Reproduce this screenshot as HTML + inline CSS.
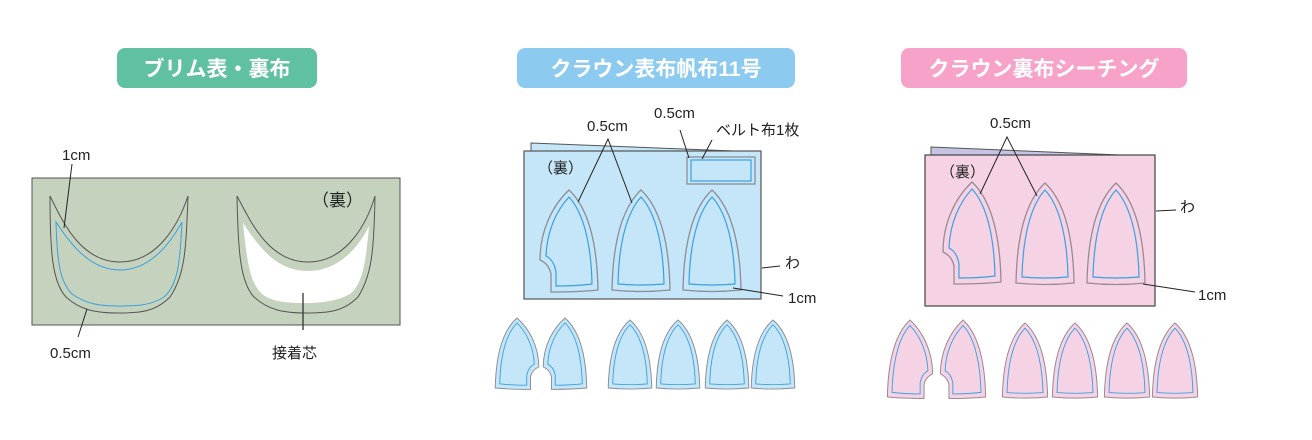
<!DOCTYPE html>
<html><head><meta charset="utf-8"><style>
html,body{margin:0;padding:0;background:#fff}
svg{display:block}
text{font-family:"Liberation Sans","Noto Sans CJK JP",sans-serif}
</style></head><body>
<svg width="1312" height="440" viewBox="0 0 1312 440" xmlns="http://www.w3.org/2000/svg">
<defs>
<path id="po" d="M0,0 C16,15 28,45 29,100 Q0,103 -29,100 C-28,45 -16,15 0,0Z"/>
<path id="pi" d="M0,7 C12,20 22,47 23,94 Q0,96 -23,94 C-22,47 -12,20 0,7Z"/>
<path id="no" d="M0,0 C16,15 28,45 29,100 Q10,102 -18,102 L-18,84 Q-20,74 -29,70 C-29,40 -16,15 0,0Z"/>
<path id="ni" d="M0,7 C12,20 22,47 23,94 Q8,96 -13,96 L-13,82 Q-15,70 -23,66 C-22,40 -12,20 0,7Z"/>
<g id="bp"><use href="#po" fill="#c5e5f8" stroke="#8a8f95" stroke-width="1.3"/><use href="#pi" fill="none" stroke="#3aa0e0" stroke-width="1.2"/></g>
<g id="bn"><use href="#no" fill="#c5e5f8" stroke="#8a8f95" stroke-width="1.3"/><use href="#ni" fill="none" stroke="#3aa0e0" stroke-width="1.2"/></g>
<g id="kp"><use href="#po" fill="#f5d3e5" stroke="#9a8a92" stroke-width="1.3"/><use href="#pi" fill="none" stroke="#3aa0e0" stroke-width="1.2"/></g>
<g id="kn"><use href="#no" fill="#f5d3e5" stroke="#9a8a92" stroke-width="1.3"/><use href="#ni" fill="none" stroke="#3aa0e0" stroke-width="1.2"/></g>
</defs>

<!-- titles -->
<rect x="117" y="48" width="200" height="40" rx="8" fill="#5fc0a2"/>
<text x="217" y="76" font-size="21" font-weight="bold" fill="#fff" text-anchor="middle">ブリム表・裏布</text>
<rect x="517" y="48" width="278" height="40" rx="8" fill="#8ccbef"/>
<text x="656" y="76" font-size="21" font-weight="bold" fill="#fff" text-anchor="middle">クラウン表布帆布11号</text>
<rect x="901" y="48" width="286" height="40" rx="8" fill="#f7a3c9"/>
<text x="1044" y="76" font-size="21" font-weight="bold" fill="#fff" text-anchor="middle">クラウン裏布シーチング</text>

<!-- green panel -->
<rect x="32" y="178" width="368" height="147" fill="#c5d3be" stroke="#555" stroke-width="1"/>
<path d="M50,196 C62,220 80,262 120,262 C160,262 180,220 188,196 C186,250 185,275 170,297 C155,312 140,313 118,313 C96,313 80,310 66,297 C52,282 50,250 50,196Z" fill="none" stroke="#555" stroke-width="1"/>
<path d="M56,222 C68,240 88,270 120,270 C152,270 172,240 182,222 C180,262 178,285 164,297 C150,306 135,306 118,306 C100,306 86,304 72,294 C60,282 57,262 56,222Z" fill="none" stroke="#3aa0e0" stroke-width="1"/>
<path d="M237,196 C250,220 268,262 308,262 C348,262 368,220 375,196 C374,250 372,275 358,297 C343,312 328,313 306,313 C284,313 268,310 254,297 C240,282 238,250 237,196Z" fill="none" stroke="#555" stroke-width="1"/>
<path d="M243,223 C258,245 275,271 308,271 C340,271 360,245 369,226 C366,262 362,288 348,295 C334,302 318,303 304,303 C288,303 272,302 262,294 C250,283 247,262 243,223Z" fill="#fff"/>
<line x1="72" y1="164" x2="64" y2="228" stroke="#222" stroke-width="1"/>
<line x1="87" y1="309" x2="78" y2="337" stroke="#222" stroke-width="1"/>
<line x1="303" y1="293" x2="303" y2="330" stroke="#333" stroke-width="1.3"/>
<text x="62" y="160" font-size="15" fill="#222">1cm</text>
<text x="50" y="358" font-size="15" fill="#222">0.5cm</text>
<text x="272" y="358" font-size="15" fill="#222">接着芯</text>
<text x="312" y="206" font-size="17" fill="#222">（裏）</text>

<!-- blue panel -->
<path d="M531,143 L760,152 L531,152Z" fill="#c5e5f8" stroke="#555" stroke-width="1"/>
<rect x="524" y="151" width="237" height="148" fill="#c5e5f8" stroke="#555" stroke-width="1.2"/>
<rect x="687" y="157" width="68" height="27" fill="#c5e5f8" stroke="#8a8f95" stroke-width="1.3"/>
<rect x="691" y="160" width="60" height="21" fill="none" stroke="#3aa0e0" stroke-width="1.2"/>
<use href="#bn" transform="translate(569,190)"/>
<use href="#bp" transform="translate(641,190)"/>
<use href="#bp" transform="translate(712,190)"/>
<text x="538" y="173" font-size="15" fill="#222">（裏）</text>
<text x="587" y="131" font-size="15" fill="#222">0.5cm</text>
<text x="654" y="118" font-size="15" fill="#222">0.5cm</text>
<text x="716" y="135" font-size="15" fill="#222">ベルト布1枚</text>
<text x="785" y="268" font-size="15" fill="#222">わ</text>
<text x="788" y="303" font-size="15" fill="#222">1cm</text>
<polyline points="578,202 608,139 632,203" fill="none" stroke="#222" stroke-width="1"/>
<line x1="680" y1="130" x2="689" y2="158" stroke="#222" stroke-width="1"/>
<line x1="702" y1="159" x2="712" y2="140" stroke="#222" stroke-width="1"/>
<line x1="762" y1="268" x2="780" y2="266" stroke="#222" stroke-width="1"/>
<line x1="733" y1="288" x2="783" y2="296" stroke="#222" stroke-width="1"/>
<g transform="translate(517,318) scale(-0.75,0.7)"><use href="#bn"/></g>
<g transform="translate(565,318) scale(0.75,0.7)"><use href="#bn"/></g>
<g transform="translate(630,320) scale(0.75,0.68)"><use href="#bp"/></g>
<g transform="translate(678,320) scale(0.75,0.68)"><use href="#bp"/></g>
<g transform="translate(727,320) scale(0.75,0.68)"><use href="#bp"/></g>
<g transform="translate(773,320) scale(0.75,0.68)"><use href="#bp"/></g>

<!-- pink panel -->
<path d="M931,147 L1120,155 L931,155Z" fill="#c5c3e3" stroke="#555" stroke-width="1"/>
<rect x="925" y="155" width="230" height="151" fill="#f5d3e5" stroke="#444" stroke-width="1.2"/>
<use href="#kn" transform="translate(972,182)"/>
<use href="#kp" transform="translate(1045,183)"/>
<use href="#kp" transform="translate(1116,183)"/>
<text x="940" y="177" font-size="15" fill="#222">（裏）</text>
<text x="990" y="128" font-size="15" fill="#222">0.5cm</text>
<text x="1180" y="212" font-size="15" fill="#222">わ</text>
<text x="1198" y="300" font-size="15" fill="#222">1cm</text>
<polyline points="980,194 1007,137 1037,196" fill="none" stroke="#222" stroke-width="1"/>
<line x1="1156" y1="211" x2="1176" y2="210" stroke="#222" stroke-width="1"/>
<line x1="1143" y1="284" x2="1195" y2="292" stroke="#222" stroke-width="1"/>
<g transform="translate(910,320) scale(-0.78,0.77)"><use href="#kn"/></g>
<g transform="translate(963,320) scale(0.78,0.77)"><use href="#kn"/></g>
<g transform="translate(1025,323) scale(0.78,0.74)"><use href="#kp"/></g>
<g transform="translate(1075,323) scale(0.78,0.74)"><use href="#kp"/></g>
<g transform="translate(1127,323) scale(0.78,0.74)"><use href="#kp"/></g>
<g transform="translate(1175,323) scale(0.78,0.74)"><use href="#kp"/></g>
</svg>
</body></html>
